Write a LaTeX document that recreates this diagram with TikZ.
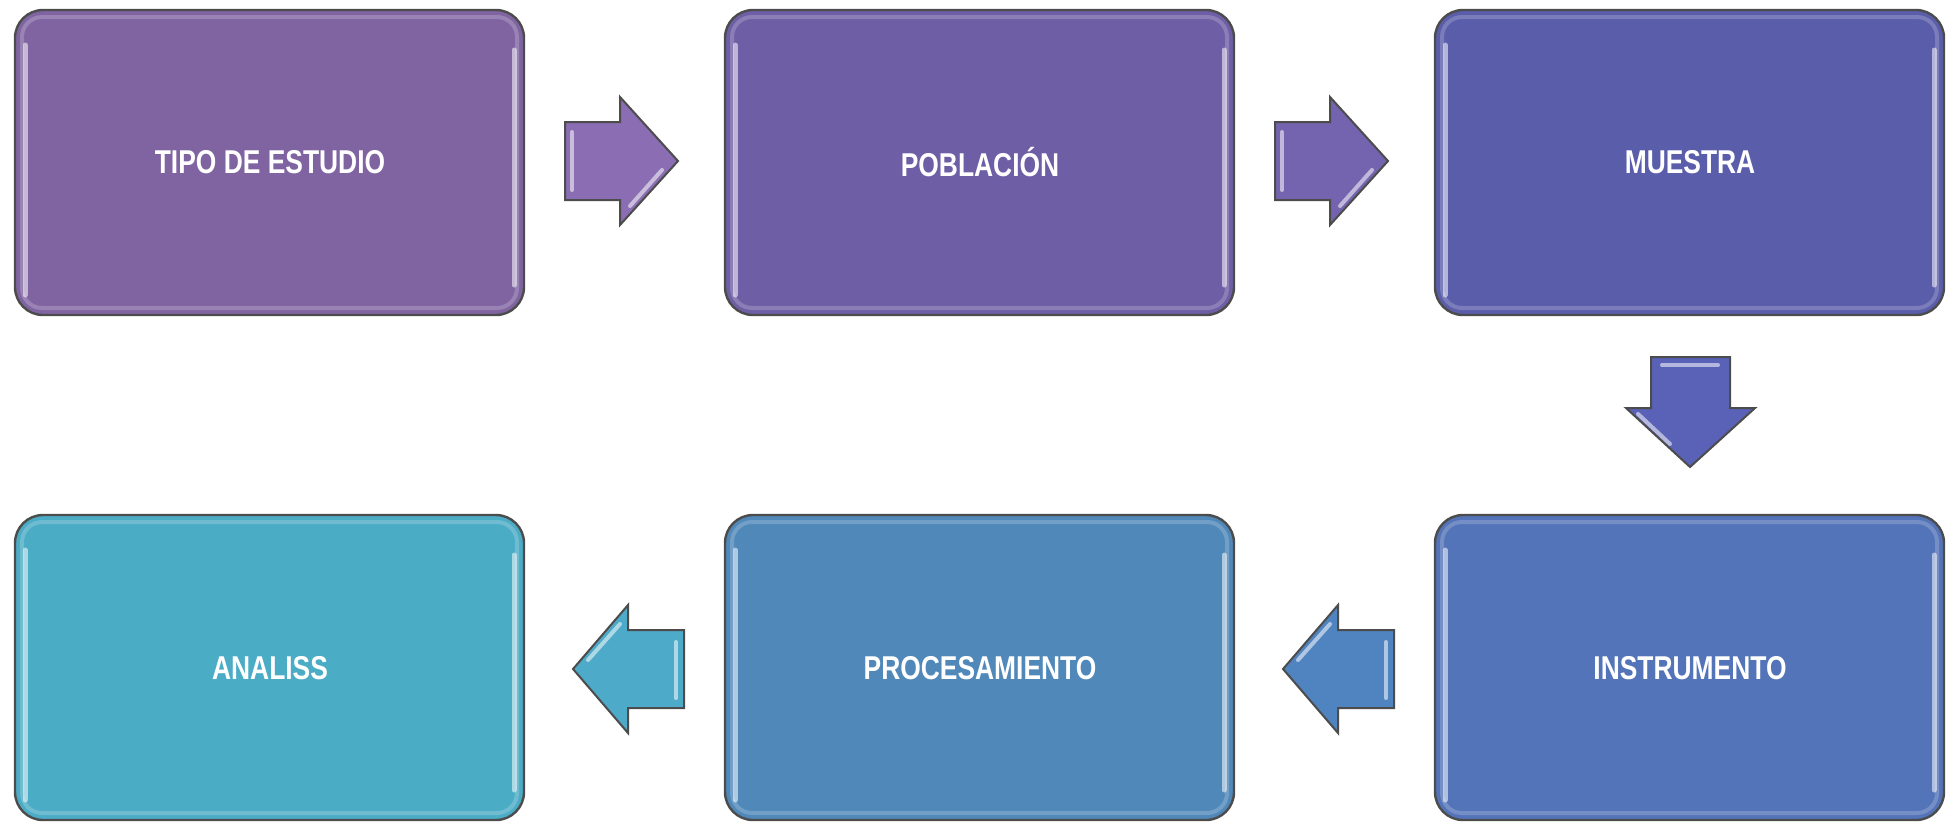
\documentclass[tikz,border=0pt]{standalone}
\usepackage{fontspec}
\setmainfont{Liberation Sans}[FakeStretch=0.80]
\begin{document}
\begin{tikzpicture}[x=0.5pt,y=-0.5pt,
  stepbox/.style={draw=black!70, line width=1.2pt, rounded corners=14pt, fill=#1},
  gloss/.style={draw=white, opacity=0.2, line width=2pt, rounded corners=10pt},
  shine/.style={draw=white, opacity=0.55, line width=2.5pt, line cap=round},
  blockarrow/.style={draw=black!70, line width=1pt, line join=miter, fill=#1},
  lbl/.style={text=white, font=\bfseries\fontsize{16.5}{19}\selectfont}
]
\useasboundingbox (0,0) rectangle (1957,821);
\definecolor{c1}{HTML}{8064A2}
\definecolor{c2}{HTML}{6E5EA5}
\definecolor{c3}{HTML}{5A5DAA}
\definecolor{c4}{HTML}{5374B8}
\definecolor{c5}{HTML}{4F88B9}
\definecolor{c6}{HTML}{4BACC6}
\definecolor{a1}{HTML}{8A6DB3}
\definecolor{a2}{HTML}{7463AE}
\definecolor{a3}{HTML}{5A62B8}
\definecolor{a4}{HTML}{4F84C0}
\definecolor{a5}{HTML}{4DAAC8}

% boxes
\foreach \x/\y/\c/\n in {15/10/c1/b1, 725/10/c2/b2, 1435/10/c3/b3, 1435/515/c4/b4, 725/515/c5/b5, 15/515/c6/b6}{
  \draw[stepbox=\c] (\x,\y) rectangle ++(509,305);
  \draw[gloss] (\x+7,\y+7) rectangle ++(495,291);
  \draw[shine] (\x+10,\y+35) -- (\x+10,\y+285);
  \draw[shine] (\x+499,\y+40) -- (\x+499,\y+275);
}
\node[lbl] (t1) at (270,162) {TIPO DE ESTUDIO};
\node[lbl] (t2) at (980,162) {POBLACIÓN};
\node[lbl] (t3) at (1690,162) {MUESTRA};
\node[lbl] (t4) at (1690,668) {INSTRUMENTO};
\node[lbl] (t5) at (980,668) {PROCESAMIENTO};
\node[lbl] (t6) at (270,668) {ANALISS};

% right arrows
\foreach \dx/\c in {0/a1, 710/a2}{
  \draw[blockarrow=\c] (565+\dx,122) -- (620+\dx,122) -- (620+\dx,97) -- (678+\dx,161)
    -- (620+\dx,225) -- (620+\dx,200) -- (565+\dx,200) -- cycle;
  \draw[shine, line width=2pt] (572+\dx,132) -- (572+\dx,190);
  \draw[shine, line width=2pt] (630+\dx,206) -- (662+\dx,170);
}
% down arrow
\draw[blockarrow=a3] (1651,357) -- (1730,357) -- (1730,408) -- (1755,408) -- (1690,467)
  -- (1626,408) -- (1651,408) -- cycle;
\draw[shine, line width=2pt] (1662,365) -- (1718,365);
\draw[shine, line width=2pt] (1638,414) -- (1670,444);
% left arrows
\foreach \dx/\c in {0/a4, -710/a5}{
  \draw[blockarrow=\c] (1394+\dx,630) -- (1338+\dx,630) -- (1338+\dx,605) -- (1283+\dx,669)
    -- (1338+\dx,733) -- (1338+\dx,708) -- (1394+\dx,708) -- cycle;
  \draw[shine, line width=2pt] (1386+\dx,642) -- (1386+\dx,698);
  \draw[shine, line width=2pt] (1298+\dx,660) -- (1330+\dx,624);
}
\end{tikzpicture}
\end{document}
